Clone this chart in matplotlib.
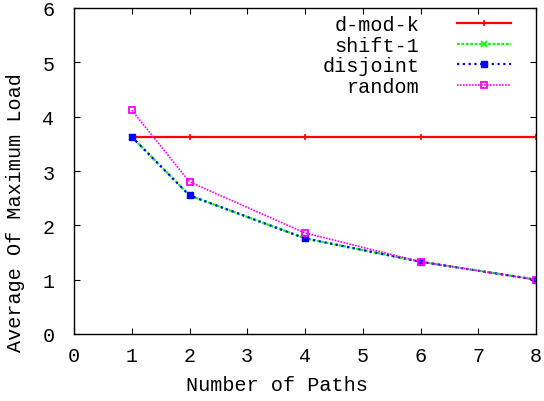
import matplotlib
matplotlib.use("Agg")
import matplotlib.pyplot as plt

paths = [1, 2, 4, 6, 8]
dmodk = [3.63, 3.63, 3.63, 3.63, 3.63]
shift1 = [3.63, 2.55, 1.76, 1.33, 1.0]
disjoint = [3.63, 2.55, 1.76, 1.33, 1.0]
random_ = [4.12, 2.80, 1.86, 1.33, 1.0]
xticks = list(range(0, 9))
yticks = list(range(0, 7))

plt.rcParams['font.family'] = ['Liberation Mono', 'DejaVu Sans Mono']
fs = 14.5

fig = plt.figure(figsize=(5.44, 4.02), dpi=100)
ax = fig.add_axes([74/544, (402-335)/402, (536-74)/544, (335-9)/402])

ms = 4.5
ax.plot(paths, dmodk, color='#ff0000', lw=1.6, marker='+', ms=5, mew=1.2, label='d-mod-k')
ax.plot(paths, shift1, color='#00ff00', lw=1.6, ls=(0, (1.2, 0.8)), marker='x', ms=ms, mew=1.2, label='shift-1')
ax.plot(paths, disjoint, color='#0000ff', lw=1.6, ls=(0, (1, 1.6)), marker='s', ms=ms, mfc='#0000ff', mec='#0000ff', label='disjoint')
ax.plot(paths, random_, color='#ff00ff', lw=1.2, ls=(0, (1, 0.8)), marker='s', ms=ms + 0.5, mfc='none', mec='#ff00ff', mew=1.3, label='random')

ax.set_xlim(0, 8)
ax.set_ylim(0, 6)
ax.set_xticks(xticks)
ax.set_yticks(yticks)
ax.tick_params(direction='in', length=4.5, width=0.8, top=True, right=True, labelsize=fs, pad=9)
ax.tick_params(axis='y', pad=14)
for s in ax.spines.values():
    s.set_linewidth(1.0)

ax.set_xlabel('Number of Paths', fontsize=fs)
ax.set_ylabel('Average Of Maximum Load', fontsize=fs)
ax.xaxis.set_label_coords(0.44, -0.155)
ax.yaxis.set_label_coords(-0.127, 0.377)
ax.xaxis.label.set_va('center')
ax.yaxis.label.set_va('center')

leg = ax.legend(loc='upper right', bbox_to_anchor=(1.0 - 15/462, 1.0 + 3/326), frameon=False, markerfirst=False,
                fontsize=fs, handlelength=2.7, handletextpad=1.85, labelspacing=0.08,
                borderaxespad=0.2, borderpad=0.3)
for t in leg.get_texts():
    t.set_ha('right')

fig.savefig('out.png', dpi=100)
